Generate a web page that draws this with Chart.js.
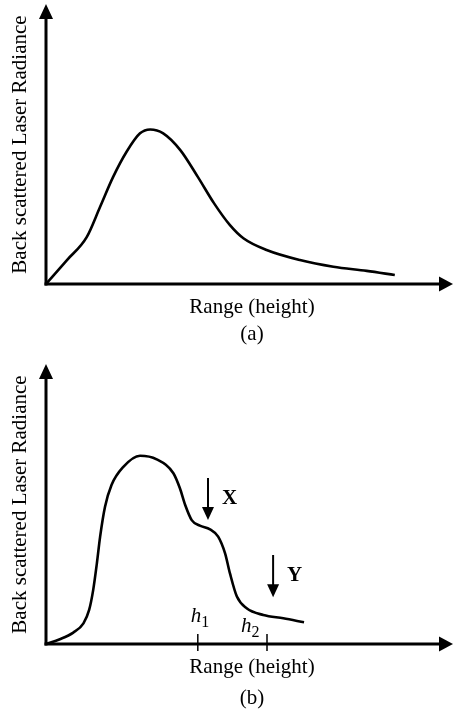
<!DOCTYPE html>
<html><head><meta charset="utf-8">
<script src="https://cdn.jsdelivr.net/npm/chart.js@4"></script>
<style>
html,body{margin:0;padding:0;background:#fff;}
#wrap{position:relative;width:454px;height:710px;}
.pan{position:absolute;left:0;width:454px;}
</style></head><body>
<div id="wrap">
<div class="pan" style="top:0;height:355px"><canvas id="ca" width="454" height="355"></canvas></div>
<div class="pan" style="top:360px;height:350px"><canvas id="cb" width="454" height="350"></canvas></div>
</div>
<script>
// ---- data (abstract units, 0..100 on both axes) ----
const xTitle = "Range (height)";
const yTitle = "Back scattered Laser Radiance";
const rangeA = [0,5.1,10.0,13.3,16.5,19.8,23.1,25.6,28.8,33.0,37.3,41.3,45.2,48.5,54.2,62.4,70.6,78.8,85.7];
const radianceA = [0,8.5,16.8,27.7,38.4,47.4,54.0,55.4,54.0,48.0,38.4,28.9,21.1,16.4,12.2,8.6,6.2,4.7,3.2];
const rangeB = [0,3.4,6.7,9.2,10.6,11.6,12.5,13.3,14.5,16.1,19.0,23.1,27.2,31.3,32.9,34.2,35.8,37.8,40.3,42.3,44.0,45.2,46.9,49.3,53.4,58.3,63.4];
const radianceB = [0,1.7,4.1,7.4,12.2,19.4,28.9,38.5,49.2,57.0,63.5,67.5,66.2,61.2,55.8,49.8,44.4,42.4,41.1,38.5,32.5,25.3,17.0,12.8,10.4,9.2,7.8];
const tickLabelsB = ["h1","h2"];
const tickPosB = [37.3,54.3];
const markerLabelsB = ["X","Y"];
const markerXB = [39.8,55.8];
const markerFromB = [59.5,31.9];
const markerToB = [44.4,16.8];
const panelLabels = ["(a)","(b)"];

const SERIF = '"Liberation Serif","DejaVu Serif",serif';

function arrowHead(ctx, tx, ty, dir, len, half){
  ctx.beginPath();
  if(dir==='up'){ctx.moveTo(tx,ty);ctx.lineTo(tx-half,ty+len);ctx.lineTo(tx+half,ty+len);}
  else if(dir==='down'){ctx.moveTo(tx,ty);ctx.lineTo(tx-half,ty-len);ctx.lineTo(tx+half,ty-len);}
  else {ctx.moveTo(tx,ty);ctx.lineTo(tx-len,ty-half);ctx.lineTo(tx-len,ty+half);}
  ctx.closePath();ctx.fill();
}

const decor = {
  id:'decor',
  afterDatasetsDraw(chart, args, o){
    const ctx=chart.ctx, a=chart.chartArea, xs=chart.scales.x, ys=chart.scales.y;
    ctx.save();
    ctx.fillStyle='#000';ctx.strokeStyle='#000';
    // axes
    ctx.lineWidth=3;
    ctx.beginPath();ctx.moveTo(a.left,a.bottom+1.5);ctx.lineTo(a.left,a.top+10);ctx.stroke();
    arrowHead(ctx,a.left,a.top-1,'up',15,7);
    ctx.beginPath();ctx.moveTo(a.left-1.5,a.bottom);ctx.lineTo(a.right-10,a.bottom);ctx.stroke();
    arrowHead(ctx,a.right,a.bottom,'right',14,7.5);
    // titles
    ctx.font='21px '+SERIF;ctx.textAlign='center';ctx.textBaseline='middle';
    ctx.fillText(xTitle,252,a.bottom+23);
    ctx.fillText(o.panel,252,o.panelY);
    ctx.save();ctx.translate(20,(a.top+a.bottom)/2);ctx.rotate(-Math.PI/2);
    ctx.fillText(yTitle,0,0);ctx.restore();
    // ticks with italic labels
    (o.ticks||[]).forEach((t,i)=>{
      const px=xs.getPixelForValue(t.x);
      ctx.lineWidth=1.5;
      ctx.beginPath();ctx.moveTo(px,a.bottom-10);ctx.lineTo(px,a.bottom+7);ctx.stroke();
      const base=t.label[0], sub=t.label.slice(1);
      ctx.textAlign='left';ctx.textBaseline='alphabetic';
      ctx.font='italic 21px '+SERIF;
      const w=ctx.measureText(base).width;
      const lx=px+t.dx;
      ctx.fillText(base,lx,a.bottom+t.dy);
      ctx.font='16px '+SERIF;
      ctx.fillText(sub,lx+w,a.bottom+t.dy+5);
    });
    // down markers
    (o.markers||[]).forEach(m=>{
      const px=xs.getPixelForValue(m.x), y1=ys.getPixelForValue(m.from), y2=ys.getPixelForValue(m.to);
      ctx.lineWidth=2;
      ctx.beginPath();ctx.moveTo(px,y1);ctx.lineTo(px,y2-10);ctx.stroke();
      arrowHead(ctx,px,y2,'down',13,6);
      ctx.font='bold 21px '+SERIF;ctx.textAlign='left';ctx.textBaseline='middle';
      ctx.fillText(m.label,px+14,(y1+y2)/2);
    });
    ctx.restore();
  }
};

function makeChart(id, xsArr, ysArr, opts, padBottom){
  return new Chart(document.getElementById(id),{
    type:'line',
    data:{datasets:[{data:xsArr.map((x,i)=>({x:x,y:ysArr[i]})),borderColor:'#000',borderWidth:2.6,pointRadius:0,cubicInterpolationMode:'monotone',fill:false}]},
    options:{
      responsive:false,animation:false,devicePixelRatio:1,
      layout:{padding:{left:46,right:1,top:5,bottom:padBottom}},
      scales:{x:{type:'linear',min:0,max:100,display:false},y:{min:0,max:100,display:false}},
      plugins:{legend:{display:false},tooltip:{enabled:false},decor:opts},
      events:[]
    },
    plugins:[decor]
  });
}

makeChart('ca',rangeA,radianceA,{panel:panelLabels[0],panelY:334},71);
makeChart('cb',rangeB,radianceB,{
  panel:panelLabels[1],panelY:338,
  ticks:tickLabelsB.map((l,i)=>({label:l,x:tickPosB[i],dx:i===0?-7:-26,dy:i===0?-22:-12})),
  markers:markerLabelsB.map((l,i)=>({label:l,x:markerXB[i],from:markerFromB[i],to:markerToB[i]}))
},66);
</script>
</body></html>
